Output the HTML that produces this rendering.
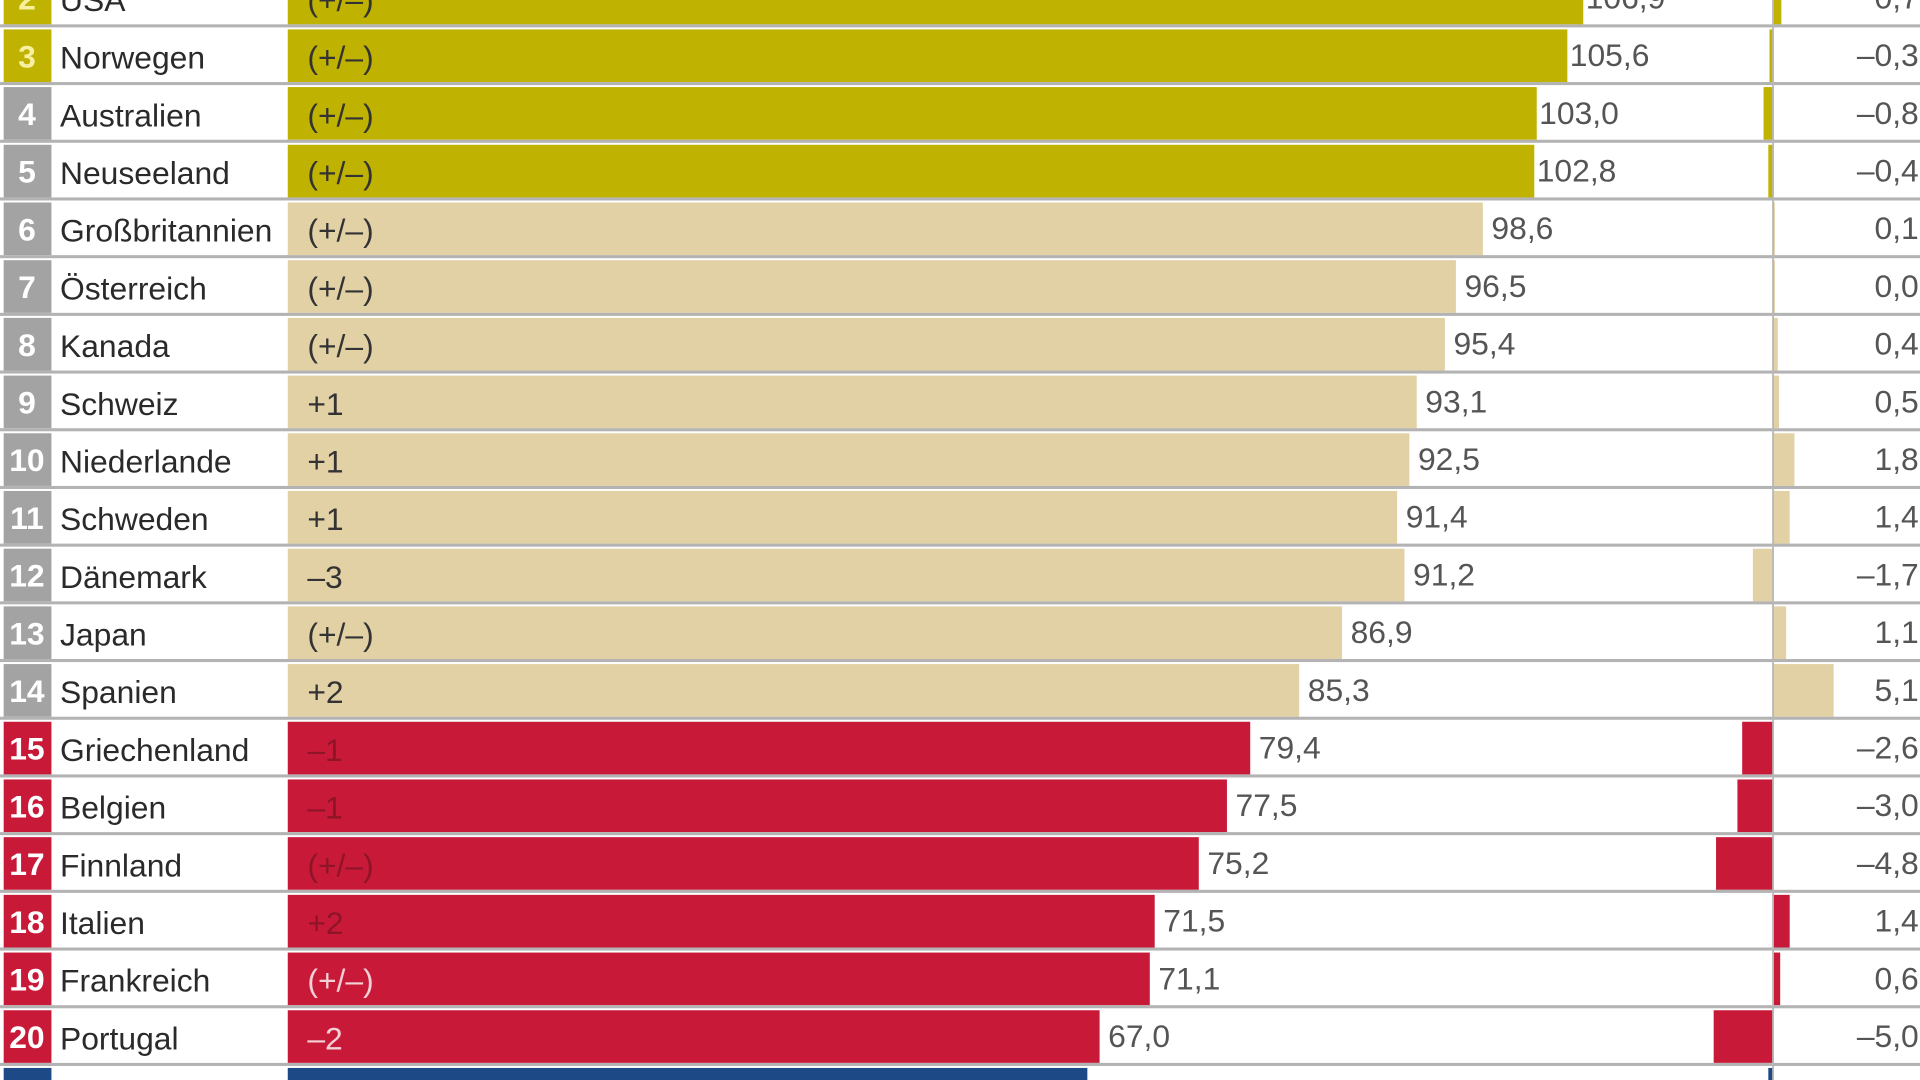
<!DOCTYPE html>
<html><head><meta charset="utf-8"><style>
html,body{margin:0;padding:0;background:#fff;overflow:hidden}
svg{display:block}
text{font-family:"Liberation Sans Narrow","Liberation Sans",sans-serif;font-size:26px}
</style></head><body>
<svg width="1920" height="1080" viewBox="0 0 1568 882" xmlns="http://www.w3.org/2000/svg">
<rect width="1568" height="882" fill="#fff"/>
<g id="rows"></g>
<line x1="1448" y1="0" x2="1448" y2="882" stroke="#b8b8b8" stroke-width="1.5"/>
</svg>
<script>
const rows=[
[2,"USA","(+/–)",1293,"106,9",0.7,"o"],
[3,"Norwegen","(+/–)",1280,"105,6",-0.3,"o"],
[4,"Australien","(+/–)",1255,"103,0",-0.8,"o"],
[5,"Neuseeland","(+/–)",1253,"102,8",-0.4,"o"],
[6,"Großbritannien","(+/–)",1211,"98,6",0.1,"t"],
[7,"Österreich","(+/–)",1189,"96,5",0.0,"t"],
[8,"Kanada","(+/–)",1180,"95,4",0.4,"t"],
[9,"Schweiz","+1",1157,"93,1",0.5,"t"],
[10,"Niederlande","+1",1151,"92,5",1.8,"t"],
[11,"Schweden","+1",1141,"91,4",1.4,"t"],
[12,"Dänemark","–3",1147,"91,2",-1.7,"t"],
[13,"Japan","(+/–)",1096,"86,9",1.1,"t"],
[14,"Spanien","+2",1061,"85,3",5.1,"t"],
[15,"Griechenland","–1",1021,"79,4",-2.6,"r"],
[16,"Belgien","–1",1002,"77,5",-3.0,"r"],
[17,"Finnland","(+/–)",979,"75,2",-4.8,"r"],
[18,"Italien","+2",943,"71,5",1.4,"r"],
[19,"Frankreich","(+/–)",939,"71,1",0.6,"r2"],
[20,"Portugal","–2",898,"67,0",-5.0,"r2"],
[21,"Deutschland","(+/–)",888,"63,0",-0.4,"b"]];
const col={o:"#bfb200",t:"#e3d1a6",r:"#c81a38",r2:"#c81a38",b:"#1d4a86"};
let s="";
rows.forEach(r=>{
 const [rk,name,ch,end,val,d,c]=r;
 const cy=45+(rk-3)*47.12, top=cy-21;
 const rc=rk<=3?"#bfb200":(c==="o"||c==="t"?"#a3a3a3":col[c]);
 s+=`<rect x="3" y="${top}" width="39" height="43" fill="${rc}"/>`;
 s+=`<text x="22" y="${cy+10}" text-anchor="middle" fill="${rk<=3?'#f6f0a0':'#fff'}" font-weight="bold">${rk}</text>`;
 s+=`<text x="49" y="${cy+11}" fill="#2a2a2a">${name}</text>`;
 s+=`<rect x="235" y="${top}" width="${end-235}" height="43" fill="${col[c]}"/>`;
 const tc=c==="r"?"#8e1428":(c==="r2"||c==="b"?"#f3d0d6":"#333");
 s+=`<text x="251" y="${cy+11}" fill="${tc}">${ch}</text>`;
 s+=`<text x="${end+(c==='o'?2:7)}" y="${cy+9}" fill="#555">${val}</text>`;
 const w=Math.abs(d)*9.7, x=d<0?1448-w:1448;
 s+=`<rect x="${x}" y="${top}" width="${Math.max(w,1.5)}" height="43" fill="${col[c]}"/>`;
 const ds=(d<0?"–":"")+Math.abs(d).toFixed(1).replace(".",",");
 s+=`<text x="1567" y="${cy+9}" text-anchor="end" fill="#555">${ds}</text>`;
 s+=`<rect x="0" y="${cy+22}" width="1568" height="2.5" fill="#b3b3b3"/>`;
});
document.getElementById("rows").innerHTML=s;
</script>
</body></html>
